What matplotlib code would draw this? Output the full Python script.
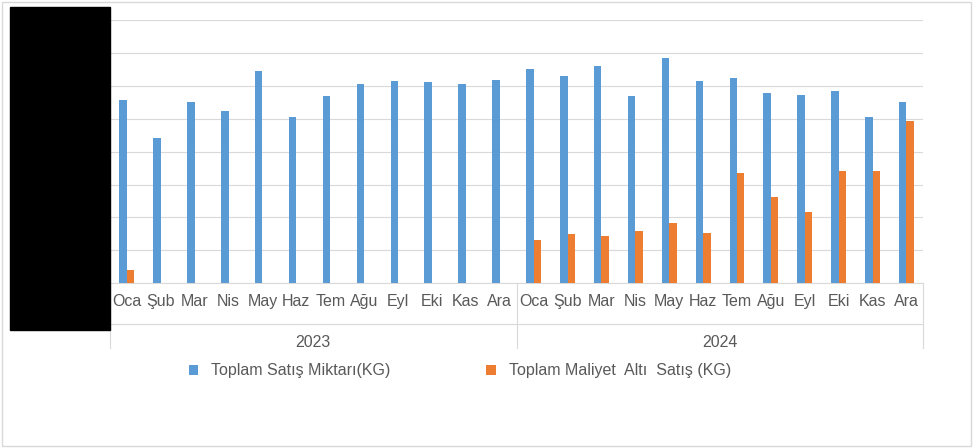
import matplotlib
matplotlib.use('Agg')
import matplotlib.pyplot as plt
import numpy as np
from matplotlib.patches import Rectangle

months = ['Oca', 'Şub', 'Mar', 'Nis', 'May', 'Haz', 'Tem', 'Ağu', 'Eyl', 'Eki', 'Kas', 'Ara']
years = ['2023', '2024']
satis = [5.58, 4.42, 5.52, 5.24, 6.45, 5.06, 5.70, 6.06, 6.15, 6.12, 6.06, 6.18,
         6.52, 6.30, 6.60, 5.70, 6.85, 6.15, 6.24, 5.79, 5.73, 5.85, 5.06, 5.52]
maliyet_alti = [0.39, 0, 0, 0, 0, 0, 0, 0, 0, 0, 0, 0,
                1.30, 1.48, 1.42, 1.58, 1.82, 1.52, 3.36, 2.61, 2.15, 3.42, 3.42, 4.94]

plt.rcParams['font.family'] = ['Liberation Sans', 'DejaVu Sans']
txt = '#595959'

fig = plt.figure(figsize=(9.73, 4.48), dpi=100)
ax = fig.add_axes([0.113, 0.368, 0.836, 0.587])
n = len(satis)
x = np.arange(n)
w = 0.22
ax.bar(x - w / 2, satis, w, color='#5B9BD5', label='Toplam Satış Miktarı(KG)', zorder=3)
ax.bar(x + w / 2, maliyet_alti, w, color='#ED7D31', label='Toplam Maliyet  Altı  Satış (KG)', zorder=3)
ax.set_xlim(-0.5, n - 0.5)
ax.set_ylim(0, 8)
ax.set_yticks(range(0, 9))
ax.set_yticklabels([])
ax.tick_params(length=0)
ax.grid(axis='y', color='#d9d9d9', lw=0.8, zorder=0)
for s in ['top', 'right', 'left']:
    ax.spines[s].set_visible(False)
ax.spines['bottom'].set_color('#d9d9d9')
ax.set_xticks(x)
ax.set_xticklabels(months * 2, fontsize=11.5, color=txt)
ax.tick_params(axis='x', pad=8)

# two-level category axis
tr = ax.get_xaxis_transform()
for b in [-0.5, 11.5, n - 0.5]:
    ax.plot([b, b], [0, -0.245], transform=tr, color='#d9d9d9', lw=0.8, clip_on=False)
ax.plot([-0.5, n - 0.5], [-0.155, -0.155], transform=tr, color='#d9d9d9', lw=0.8, clip_on=False)
for i, yr in enumerate(years):
    ax.text(5.5 + 12 * i, -0.225, yr, transform=tr, ha='center', va='center', fontsize=11.5, color=txt)

ax.legend(loc='upper center', bbox_to_anchor=(0.43, -0.25), ncol=2, frameon=False,
          fontsize=11.5, labelcolor=txt, handlelength=0.6, handleheight=0.6, columnspacing=6)

fig.patches.append(Rectangle((10 / 973, 1 - 330 / 448), 100 / 973, 323 / 448,
                             transform=fig.transFigure, color='black', zorder=5))
fig.patches.append(Rectangle((0.002, 0.005), 0.996, 0.99, transform=fig.transFigure,
                             fill=False, edgecolor='#d9d9d9', lw=1))
fig.savefig('out.png', dpi=100)
